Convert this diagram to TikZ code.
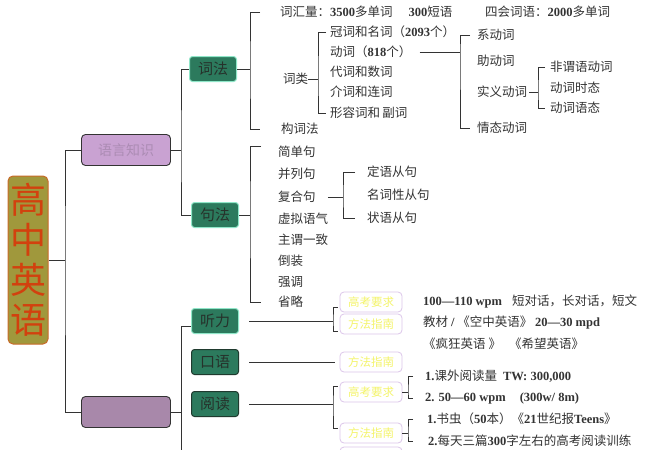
\documentclass[tikz,border=0pt]{standalone}
\usepackage{fontspec}
\setmainfont{Liberation Serif}
\newfontfamily\zh{Noto Sans CJK SC}
\newcommand\nb[1]{{\rmfamily\bfseries #1}}
\definecolor{lc}{HTML}{333333}
\definecolor{tc}{HTML}{333333}
\definecolor{boxfill}{HTML}{2C7A5D}
\definecolor{boxglow}{HTML}{8FE6C8}
\definecolor{boxdark}{HTML}{1F3A2E}
\definecolor{boxink}{HTML}{26322B}
\definecolor{purpA}{HTML}{C9A2D2}
\definecolor{purpB}{HTML}{A888AA}
\definecolor{purptext}{HTML}{AC8CB4}
\definecolor{yelt}{HTML}{F4F46A}
\definecolor{yelborder}{HTML}{DCC6EA}
\definecolor{rootfill}{HTML}{A0983C}
\definecolor{rootborder}{HTML}{C86A28}
\definecolor{roottext}{HTML}{D2410E}
\begin{document}
\begin{tikzpicture}[x=1pt,y=-1pt]
\tikzset{
  conn/.style={draw=lc, line width=0.9pt},
  lbl/.style={anchor=west, inner sep=0pt, text=tc, font=\zh\fontsize{12.5}{14}\selectfont},
  tealbox/.style={draw=boxglow, line width=1pt, fill=boxfill, rounded corners=3pt,
    minimum width=47pt, minimum height=25pt, inner sep=0pt, text=boxink,
    font=\zh\fontsize{15}{16}\selectfont},
  tealboxd/.style={tealbox, draw=boxdark},
  yelbox/.style={draw=yelborder, line width=0.8pt, fill=white, rounded corners=4pt,
    minimum width=62pt, minimum height=20pt, inner sep=0pt, text=yelt,
    font=\zh\fontsize{11.5}{12}\selectfont},
  purpbox/.style={draw=lc, line width=0.9pt, rounded corners=4pt, minimum width=89pt,
    minimum height=31pt, inner sep=0pt},
}
\useasboundingbox (0,0) rectangle (667,450);
\fill[white] (0,0) rectangle (667,450);

% root
\node[draw=rootborder, line width=1pt, fill=rootfill, rounded corners=5pt,
  minimum width=40pt, minimum height=168pt, inner sep=0pt, align=center,
  text=roottext, font=\zh\fontsize{36}{40}\selectfont] (root) at (28,260)
  {高\\中\\英\\语};

% level 1
\node[purpbox, fill=purpA, text=purptext, font=\zh\fontsize{14}{15}\selectfont] (yuyan) at (126,150) {语言知识};
\node[purpbox, fill=purpB] (bottomp) at (126,412) {};

\coordinate (j0) at (65,260);
\draw[conn] (root.east) -- (j0);
\draw[conn] (yuyan.west) -| (j0) |- (bottomp.west);

% level 2 upper
\node[tealbox] (cifa) at (213,69) {词法};
\node[tealbox] (jufa) at (215,215) {句法};
\coordinate (j1) at (181,150);
\draw[conn] (yuyan.east) -- (j1);
\draw[conn] (cifa.west) -| (j1) |- (jufa.west);

% 词法 branch
\node[lbl] (t1) at (280,12) {词汇量：\nb{3500}多单词\hspace{16pt}\nb{300}短语};
\node[lbl] (t2) at (485,12) {四会词语：\nb{2000}多单词};
\node[lbl] (cilei) at (283,79) {词类};
\node[lbl] (goucifa) at (281,129) {构词法};
\coordinate (j2) at (250,69);
\draw[conn] (cifa.east) -- (j2);
\draw[conn] ([xshift=-20pt]t1.west) -| (j2) |- ([xshift=-21pt]goucifa.west);

\node[lbl] (w1) at (330,32) {冠词和名词（\nb{2093}个）};
\node[lbl] (w2) at (330,52) {动词（\nb{818}个）};
\node[lbl] (w3) at (330,72) {代词和数词};
\node[lbl] (w4) at (330,92) {介词和连词};
\node[lbl] (w5) at (330,113) {形容词和\,副词};
\coordinate (j3) at (318,79);
\draw[conn] (cilei.east) -- (j3);
\draw[conn] ([xshift=-4pt]w1.west) -| (j3) |- ([xshift=-4pt]w5.west);

\node[lbl] (v1) at (477,35) {系动词};
\node[lbl] (v2) at (477,61) {助动词};
\node[lbl] (v3) at (477,92) {实义动词};
\node[lbl] (v4) at (477,128) {情态动词};
\coordinate (j4) at (460,52);
\draw[conn] ([xshift=8pt]w2.east) -- (j4);
\draw[conn] ([xshift=-7pt]v1.west) -| (j4) |- ([xshift=-7pt]v4.west);

\node[lbl] (s1) at (550,67) {非谓语动词};
\node[lbl] (s2) at (550,88) {动词时态};
\node[lbl] (s3) at (550,108) {动词语态};
\coordinate (j5) at (538,92);
\draw[conn] ([xshift=2pt]v3.east) -- (j5);
\draw[conn] ([xshift=-5pt]s1.west) -| (j5) |- ([xshift=-5pt]s3.west);

% 句法 branch
\node[lbl] (q1) at (278,152) {简单句};
\node[lbl] (q2) at (278,174) {并列句};
\node[lbl] (q3) at (278,197) {复合句};
\node[lbl] (q4) at (278,219) {虚拟语气};
\node[lbl] (q5) at (278,240) {主谓一致};
\node[lbl] (q6) at (278,261) {倒装};
\node[lbl] (q7) at (278,282) {强调};
\node[lbl] (q8) at (278,302) {省略};
\coordinate (j6) at (250,215);
\draw[conn] (jufa.east) -- (j6);
\draw[conn] ([xshift=-17pt,yshift=6pt]q1.west) -| (j6) |- ([xshift=-17pt]q8.west);

\node[lbl] (c1) at (367,172) {定语从句};
\node[lbl] (c2) at (367,195) {名词性从句};
\node[lbl] (c3) at (367,218) {状语从句};
\coordinate (j7) at (343,197);
\draw[conn] ([xshift=12pt]q3.east) -- (j7);
\draw[conn] ([xshift=-12pt]c1.west) -| (j7) |- ([xshift=-12pt]c3.west);

% level 2 lower
\node[tealbox] (tingli) at (215,321) {听力};
\node[tealboxd] (kouyu) at (215,362) {口语};
\node[tealboxd] (yuedu) at (215,404) {阅读};
\coordinate (j8) at (181,412);
\coordinate (jend) at (181,460);
\draw[conn] (bottomp.east) -- (j8);
\draw[conn] ([yshift=-5pt]tingli.west) -| (jend);

% 听力
\node[yelbox] (gk1) at (371,302) {高考要求};
\node[yelbox] (ff1) at (371,324) {方法指南};
\coordinate (j9) at (333,321);
\draw[conn] ([xshift=10pt]tingli.east) -- (j9);
\draw[conn] ([xshift=-2pt,yshift=-5pt]gk1.west) -| (j9) |- ([xshift=-2pt,yshift=-7pt]ff1.west);
\node[lbl] (r1) at (423,302) {\nb{100—110 wpm}\hspace{10pt}短对话，长对话，短文};
\node[lbl] (r2) at (423,323) {教材 \nb{/} 《空中英语》 \nb{20—30 mpd}};

% 口语
\node[yelbox] (ff2) at (371,362) {方法指南};
\draw[conn] ([xshift=10pt]kouyu.east) -- ([xshift=-5pt]ff2.west);
\node[lbl] (r3) at (423,344) {《疯狂英语 》\hspace{8pt}《希望英语》};

% 阅读
\node[yelbox] (gk2) at (371,392) {高考要求};
\node[yelbox] (ff3) at (371,433) {方法指南};
\coordinate (j10) at (333,404);
\draw[conn] ([xshift=10pt]yuedu.east) -- (j10);
\draw[conn] ([xshift=-2pt,yshift=6pt]gk2.west) -| (j10) |- ([xshift=-2pt,yshift=5pt]ff3.west);

\node[lbl] (r4) at (425,376) {\nb{1.}课外阅读量\hspace{6pt}\nb{TW: 300,000}};
\node[lbl] (r5) at (425,398) {\nb{2. 50—60 wpm}\hspace{14pt}\nb{(300w/ 8m)}};
\coordinate (j11) at (408,392);
\draw[conn] (gk2.east) -- (j11);
\draw[conn] ([xshift=-12pt]r4.west) -| (j11) |- ([xshift=-12pt]r5.west);

\node[lbl] (r6) at (427,419) {\nb{1.}书虫（\nb{50}本）《\nb{21}世纪报\nb{Teens}》};
\node[lbl] (r7) at (428,441) {\nb{2.}每天三篇\nb{300}字左右的高考阅读训练};
\coordinate (j12) at (408,433);
\draw[conn] (ff3.east) -- (j12);
\draw[conn] ([xshift=-14pt]r6.west) -| (j12) |- ([xshift=-15pt]r7.west);

% partially visible box at the bottom edge
\node[yelbox] (gk3) at (371,457) {高考要求};
\end{tikzpicture}
\end{document}
